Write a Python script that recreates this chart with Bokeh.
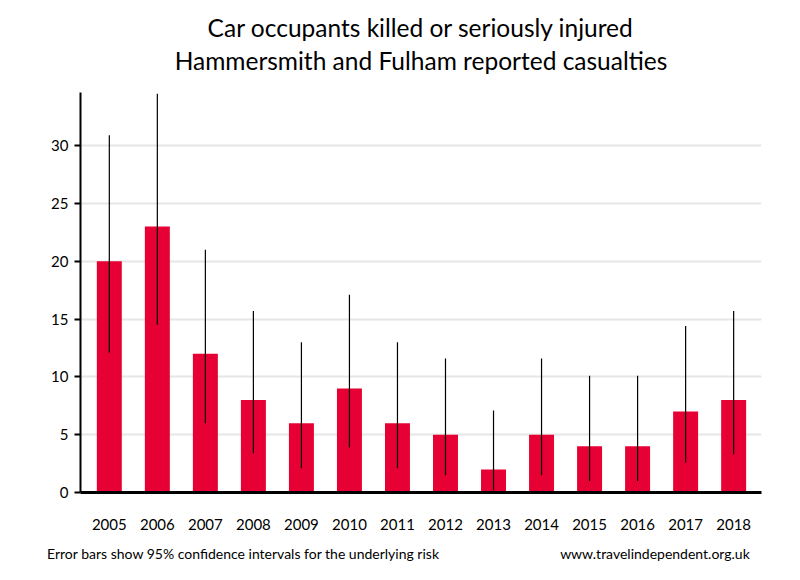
from bokeh.plotting import figure
from bokeh.models import Range1d, Title, FixedTicker, ColumnDataSource, LinearAxis
from bokeh.embed import file_html
from bokeh.resources import INLINE

years = [2005, 2006, 2007, 2008, 2009, 2010, 2011, 2012, 2013, 2014, 2015, 2016, 2017, 2018]
casualties = [20, 23, 12, 8, 6, 9, 6, 5, 2, 5, 4, 4, 7, 8]
ci_low = [12.1, 14.5, 6.0, 3.4, 2.1, 3.9, 2.1, 1.5, 0.2, 1.5, 1.0, 1.0, 2.6, 3.3]
ci_high = [30.9, 34.5, 21.0, 15.7, 13.0, 17.1, 13.0, 11.6, 7.1, 11.6, 10.1, 10.1, 14.4, 15.7]
y_ticks = [0, 5, 10, 15, 20, 25, 30]

title_line1 = "Car occupants killed or seriously injured"
title_line2 = "Hammersmith and Fulham reported casualties"
footer_left = "Error bars show 95% confidence intervals for the underlying risk"
footer_right = "www.travelindependent.org.uk"

FONT = "Lato"
RED = "#e60033"

src = ColumnDataSource(dict(x=years, top=casualties, lo=ci_low, hi=ci_high))

p = figure(width=784, height=564, output_backend="svg", toolbar_location=None,
           x_range=Range1d(2004.4, 2018.58), y_range=Range1d(0, 34.6),
           min_border_left=80, min_border_right=23, min_border_top=0, min_border_bottom=0)
p.outline_line_color = None
p.background_fill_color = "white"
p.border_fill_color = "white"

p.vbar(x="x", top="top", width=0.52, bottom=0, source=src, fill_color=RED, line_color=None)
p.segment(x0="x", y0="lo", x1="x", y1="hi", source=src, line_color="black", line_width=1.2)

p.xgrid.grid_line_color = None
p.ygrid.grid_line_color = "#e6e6e6"
p.ygrid.grid_line_width = 2
p.ygrid.ticker = FixedTicker(ticks=y_ticks[1:])

p.yaxis.ticker = FixedTicker(ticks=y_ticks)
p.yaxis.axis_line_width = 2
p.yaxis.axis_line_color = "black"
p.yaxis.major_tick_line_width = 2
p.yaxis.major_tick_out = 6
p.yaxis.major_tick_in = 0
p.yaxis.minor_tick_line_color = None
p.yaxis.major_label_text_font = FONT
p.yaxis.major_label_text_font_size = "15px"
p.yaxis.major_label_text_color = "black"
p.yaxis.major_label_standoff = 6

p.xaxis.ticker = FixedTicker(ticks=years)
p.xaxis.axis_line_width = 3
p.xaxis.axis_line_color = "black"
p.xaxis.major_tick_line_color = None
p.xaxis.minor_tick_line_color = None
p.xaxis.major_label_text_font = FONT
p.xaxis.major_label_text_font_size = "15px"
p.xaxis.major_label_text_color = "black"
p.xaxis.major_label_standoff = 20

# footer notes, drawn as the labels of an extra, line-less axis below the x axis
left_center = 2004.4 + (243 - 80) / 48.03
right_center = 2004.4 + (654.5 - 80) / 48.03
footer_axis = LinearAxis(ticker=FixedTicker(ticks=[left_center, right_center]),
                         major_label_overrides={left_center: footer_left, right_center: footer_right},
                         axis_line_color=None, major_tick_line_color=None, minor_tick_line_color=None,
                         major_label_text_font=FONT, major_label_text_font_size="14px",
                         major_label_text_color="black", major_label_standoff=6)
p.add_layout(footer_axis, "below")

# title block: spacer, line 2, line 1, spacer (added from the frame outwards)
p.add_layout(Title(text=" ", text_font_size="1px", standoff=14), "above")
p.add_layout(Title(text=title_line2, align="center",
                   text_font=FONT, text_font_size="24.5px", text_font_style="normal",
                   text_color="black", standoff=1.5), "above")
p.add_layout(Title(text=title_line1, align="center",
                   text_font=FONT, text_font_size="24.5px", text_font_style="normal",
                   text_color="black", standoff=1.5), "above")
p.add_layout(Title(text=" ", text_font_size="1px", standoff=6), "above")

open("out.html", "w").write(file_html(p, INLINE))
